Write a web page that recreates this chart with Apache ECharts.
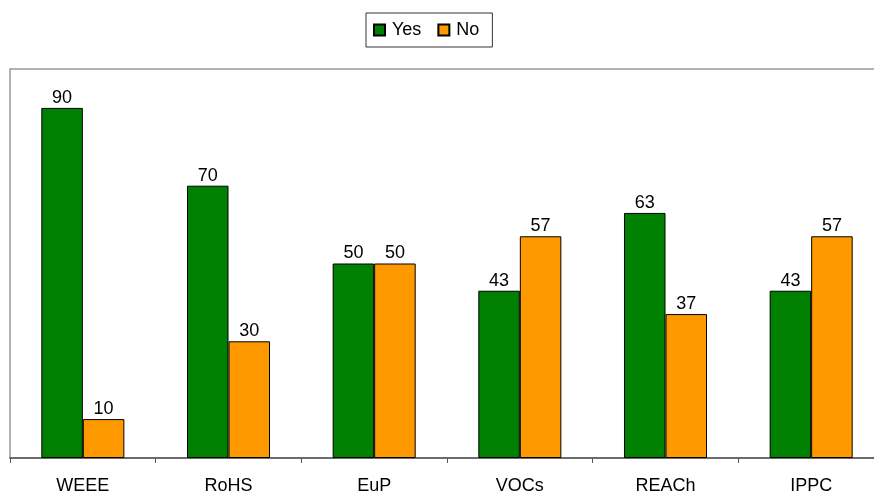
<!DOCTYPE html>
<html><head><meta charset="utf-8">
<script src="https://cdn.jsdelivr.net/npm/echarts@6/dist/echarts.min.js"></script>
<style>html,body{margin:0;padding:0;background:#fff}#c{width:874px;height:493px}</style>
</head><body><div id="c"></div>
<script>
const categories = ['WEEE','RoHS','EuP','VOCs','REACh','IPPC'];
const yesValues = [90,70,50,43,63,43];
const noValues = [10,30,50,57,37,57];
const seriesNames = ['Yes','No'];

const chart = echarts.init(document.getElementById('c'));
const font = 'Liberation Sans, Arial, sans-serif';
const lbl = {show:true, position:'top', distance:1, color:'#000', fontSize:18, fontFamily:font};
chart.setOption({
  animation:false,
  backgroundColor:'#fff',
  legend:{
    data:seriesNames, left:366, top:13,
    padding:[8,13,8,7], itemGap:16, itemWidth:11, itemHeight:11, icon:'rect',
    borderColor:'#333', borderWidth:1,
    textStyle:{fontSize:18, fontFamily:font, color:'#000', padding:[0,0,0,2]}
  },
  grid:{left:10, right:-10, top:69, bottom:35, containLabel:false, outerBoundsMode:'none'},
  xAxis:{
    type:'category', data:categories,
    axisLine:{lineStyle:{color:'#555', width:1.5}},
    axisTick:{show:true, inside:false, length:5, lineStyle:{color:'#555'}},
    axisLabel:{color:'#000', fontSize:18, fontFamily:font, margin:19}
  },
  yAxis:{
    type:'value', min:0, max:100, interval:100,
    axisLine:{show:true, lineStyle:{color:'#999', width:1.5}},
    axisTick:{show:false}, axisLabel:{show:false},
    splitLine:{show:true, lineStyle:{color:'#999', width:1.5}}
  },
  series:[
    {name:seriesNames[0], type:'bar', data:yesValues, barGap:'0%', barCategoryGap:'43%',
     itemStyle:{color:'#008000', borderColor:'#000', borderWidth:1}, label:lbl},
    {name:seriesNames[1], type:'bar', data:noValues,
     itemStyle:{color:'#FF9900', borderColor:'#000', borderWidth:1}, label:lbl}
  ]
});
</script></body></html>
